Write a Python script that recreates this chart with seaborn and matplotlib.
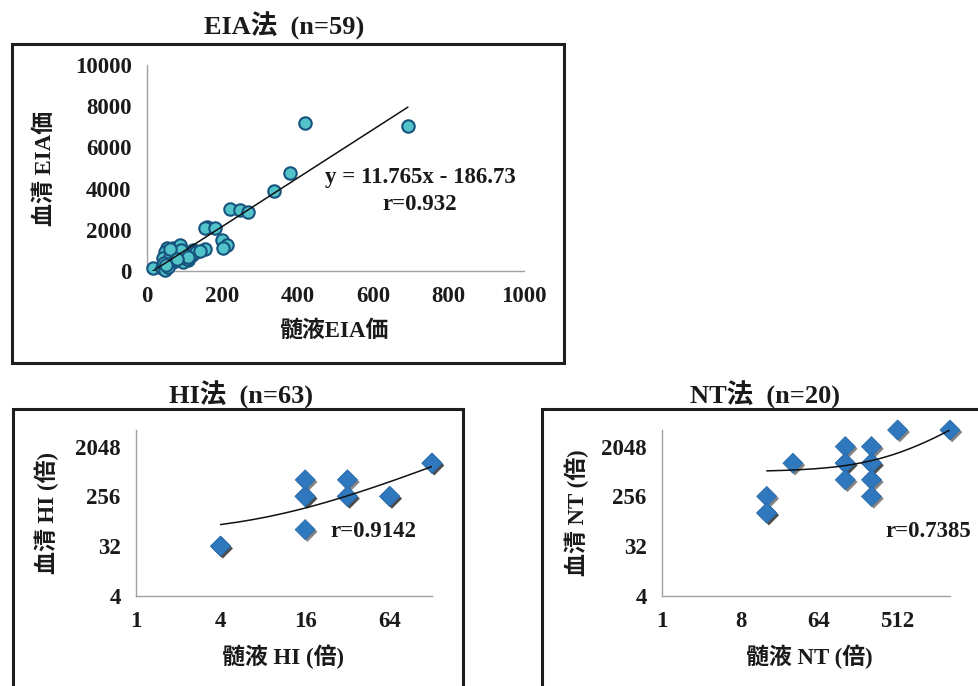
import numpy as np
import pandas as pd
import seaborn as sns
import matplotlib
matplotlib.use("Agg")
import matplotlib.pyplot as plt
import matplotlib.patheffects as pe
from matplotlib.patches import Rectangle

# ---------------- data ----------------
# EIA (CSF EIA value vs serum EIA value)
eia_csf = [15, 39, 48, 52, 48, 70, 88, 43, 65, 79, 101, 114, 123, 110, 96, 70, 57,
           154, 158, 154, 180, 198, 213, 201, 220, 247, 269, 337, 380, 420, 692,
           60, 85, 105, 95, 120, 45, 55, 75, 100, 130, 90, 62, 110, 140, 50, 80]
eia_serum = [160, 130, 50, 1100, 940, 1100, 1260, 615, 776, 615, 940, 860, 1020, 534, 450, 450, 374,
             1068, 2150, 2070, 2070, 1505, 1260, 1100, 3010, 2960, 2850, 3870, 4780, 7200, 7024,
             700, 800, 600, 700, 780, 400, 200, 550, 820, 900, 1000, 1050, 680, 950, 300, 600]
eia_slope, eia_intercept = 11.765, -186.73
eia_xticks = [0, 200, 400, 600, 800, 1000]
eia_yticks = [0, 2000, 4000, 6000, 8000, 10000]

# HI (titres, duplicates stack darker)
hi_csf = [4, 4, 16, 16, 16, 16, 32, 32, 32, 64, 64, 128, 128]
hi_serum = [32, 32, 256, 256, 512, 64, 512, 256, 256, 256, 256, 1024, 1024]
hi_slope, hi_intercept = 6.55, 52.8
hi_xrange = [4, 128]
hi_xticks = [1, 4, 16, 64]
hi_yticks = [4, 32, 256, 2048]

# NT
nt_csf = [16, 16, 16, 32, 128, 128, 128, 128, 256, 256, 256, 256, 256, 512, 2048]
nt_serum = [256, 128, 128, 1024, 2048, 1024, 1024, 512, 2048, 1024, 1024, 512, 256, 4096, 4096]
nt_slope, nt_intercept = 1.65, 717
nt_xrange = [16, 2048]
nt_xticks = [1, 8, 64, 512]
nt_yticks = [4, 32, 256, 2048]

# ---------------- style ----------------
sns.set_style("white")
plt.rcParams['font.family'] = ['Liberation Serif', 'Noto Sans CJK JP']
plt.rcParams['font.weight'] = 'bold'
FAM = ['Liberation Serif', 'Noto Sans CJK JP']
TICK_FS = 16.5
ANN_FS = 16.5
LAB_FS = 16.5
TITLE_FS = 19
INK = '#1a1a1a'

W, H = 979, 686
fig = plt.figure(figsize=(W / 100, H / 100), dpi=100)
fig.patch.set_facecolor('white')

def fx(x):
    return x / W

def fy(y):
    return 1 - y / H

def axes_px(l, t, r, b):
    return fig.add_axes([fx(l), fy(b), fx(r) - fx(l), (b - t) / H])

def box(l, t, r, b):
    fig.patches.append(Rectangle((fx(l), fy(b)), fx(r) - fx(l), (b - t) / H,
                                 transform=fig.transFigure, fill=False,
                                 edgecolor='#1e1e1e', linewidth=2.2, zorder=0))

def style_axes(ax):
    for s in ['top', 'right']:
        ax.spines[s].set_visible(False)
    for s in ['left', 'bottom']:
        ax.spines[s].set_color('#a0a0a0')
        ax.spines[s].set_linewidth(1.0)
    ax.tick_params(axis='both', which='major', direction='out', length=5, width=1,
                   color='#a0a0a0', labelsize=TICK_FS, labelcolor=INK, pad=6)
    ax.tick_params(which='minor', length=0)
    ax.set_facecolor('none')
    ax.set_xlabel('')
    ax.set_ylabel('')
    for lab in ax.get_xticklabels() + ax.get_yticklabels():
        lab.set_fontweight('bold')

shadow = [pe.SimplePatchShadow(offset=(1.6, -1.6), shadow_rgbFace='#202020', alpha=0.55), pe.Normal()]

# frames
box(12, 44, 564, 363)
box(13, 409, 463, 700)
box(542, 409, 1000, 700)

# ---------------- EIA ----------------
ax1 = axes_px(147, 65, 524, 271)
df1 = pd.DataFrame({'x': eia_csf, 'y': eia_serum})
sns.scatterplot(data=df1, x='x', y='y', ax=ax1, s=80, color='#52c3c8',
                edgecolor='#17537f', linewidth=1.5, zorder=3, clip_on=False)
tx = np.linspace(min(eia_csf), max(eia_csf), 50)
sns.lineplot(x=tx, y=eia_slope * tx + eia_intercept, ax=ax1, color='#111111',
             linewidth=1.1, estimator=None, sort=False, zorder=4)
ax1.set_xlim(0, 1000)
ax1.set_ylim(0, 10000)
ax1.set_xticks(eia_xticks)
ax1.set_xticklabels([str(v) for v in eia_xticks])
ax1.set_yticks(eia_yticks)
ax1.set_yticklabels([str(v) for v in eia_yticks])
style_axes(ax1)
ax1.text(724, 4560, 'y = 11.765x - 186.73', ha='center', va='center', fontsize=ANN_FS,
         fontweight='bold', color=INK, family=FAM)
ax1.text(724, 3250, 'r=0.932', ha='center', va='center', fontsize=ANN_FS,
         fontweight='bold', color=INK, family=FAM)

fig.text(fx(284), fy(26), 'EIA法  (n=59)', ha='center', va='center', fontsize=TITLE_FS,
         fontweight='bold', family=FAM, color=INK)
fig.text(fx(335), fy(331), '髄液EIA価', ha='center', va='center', fontsize=LAB_FS,
         fontweight='bold', family=FAM, color=INK)
fig.text(fx(45), fy(168), '血清 EIA価', ha='center', va='center', fontsize=LAB_FS,
         fontweight='bold', family=FAM, color=INK, rotation=90)

# ---------------- HI ----------------
ax2 = axes_px(136, 430, 432, 596)
df2 = pd.DataFrame({'x': hi_csf, 'y': hi_serum})
sc2 = sns.scatterplot(data=df2, x='x', y='y', ax=ax2, marker='D', s=105, color='#2f78bd',
                      edgecolor='#2a6aa8', linewidth=0.5, zorder=3, clip_on=False)
sc2.collections[0].set_path_effects(shadow)
hx = np.linspace(hi_xrange[0], hi_xrange[1], 100)
sns.lineplot(x=hx, y=hi_slope * hx + hi_intercept, ax=ax2, color='#111111',
             linewidth=1.1, estimator=None, sort=False, zorder=4)
ax2.set_xscale('log', base=4)
ax2.set_yscale('log', base=8)
ax2.set_xlim(1, 128)
ax2.set_ylim(4, 4096)
ax2.set_xticks(hi_xticks)
ax2.set_xticklabels([str(v) for v in hi_xticks])
ax2.set_yticks(hi_yticks)
ax2.set_yticklabels([str(v) for v in hi_yticks])
ax2.minorticks_off()
style_axes(ax2)
ax2.text(0.655, 0.386, 'r=0.9142', transform=ax2.transAxes, ha='left', va='center',
         fontsize=ANN_FS, fontweight='bold', family=FAM, color=INK)

fig.text(fx(241), fy(395), 'HI法  (n=63)', ha='center', va='center', fontsize=TITLE_FS,
         fontweight='bold', family=FAM, color=INK)
fig.text(fx(283), fy(657), '髄液 HI (倍)', ha='center', va='center', fontsize=LAB_FS,
         fontweight='bold', family=FAM, color=INK)
fig.text(fx(47), fy(513), '血清 HI (倍)', ha='center', va='center', fontsize=LAB_FS,
         fontweight='bold', family=FAM, color=INK, rotation=90)

# ---------------- NT ----------------
ax3 = axes_px(662, 430, 950, 596)
df3 = pd.DataFrame({'x': nt_csf, 'y': nt_serum})
sc3 = sns.scatterplot(data=df3, x='x', y='y', ax=ax3, marker='D', s=105, color='#2f78bd',
                      edgecolor='#2a6aa8', linewidth=0.5, zorder=3, clip_on=False)
sc3.collections[0].set_path_effects(shadow)
nx = np.linspace(nt_xrange[0], nt_xrange[1], 200)
sns.lineplot(x=nx, y=nt_slope * nx + nt_intercept, ax=ax3, color='#111111',
             linewidth=1.1, estimator=None, sort=False, zorder=4)
ax3.set_xscale('log', base=8)
ax3.set_yscale('log', base=8)
ax3.set_xlim(1, 2048)
ax3.set_ylim(4, 4096)
ax3.set_xticks(nt_xticks)
ax3.set_xticklabels([str(v) for v in nt_xticks])
ax3.set_yticks(nt_yticks)
ax3.set_yticklabels([str(v) for v in nt_yticks])
ax3.minorticks_off()
style_axes(ax3)
ax3.text(0.924, 0.387, 'r=0.7385', transform=ax3.transAxes, ha='center', va='center',
         fontsize=ANN_FS, fontweight='bold', family=FAM, color=INK, clip_on=False)

fig.text(fx(765), fy(395), 'NT法  (n=20)', ha='center', va='center', fontsize=TITLE_FS,
         fontweight='bold', family=FAM, color=INK)
fig.text(fx(809), fy(657), '髄液 NT (倍)', ha='center', va='center', fontsize=LAB_FS,
         fontweight='bold', family=FAM, color=INK)
fig.text(fx(577), fy(513), '血清 NT (倍)', ha='center', va='center', fontsize=LAB_FS,
         fontweight='bold', family=FAM, color=INK, rotation=90)

fig.savefig('out.png', dpi=100, facecolor='white')
